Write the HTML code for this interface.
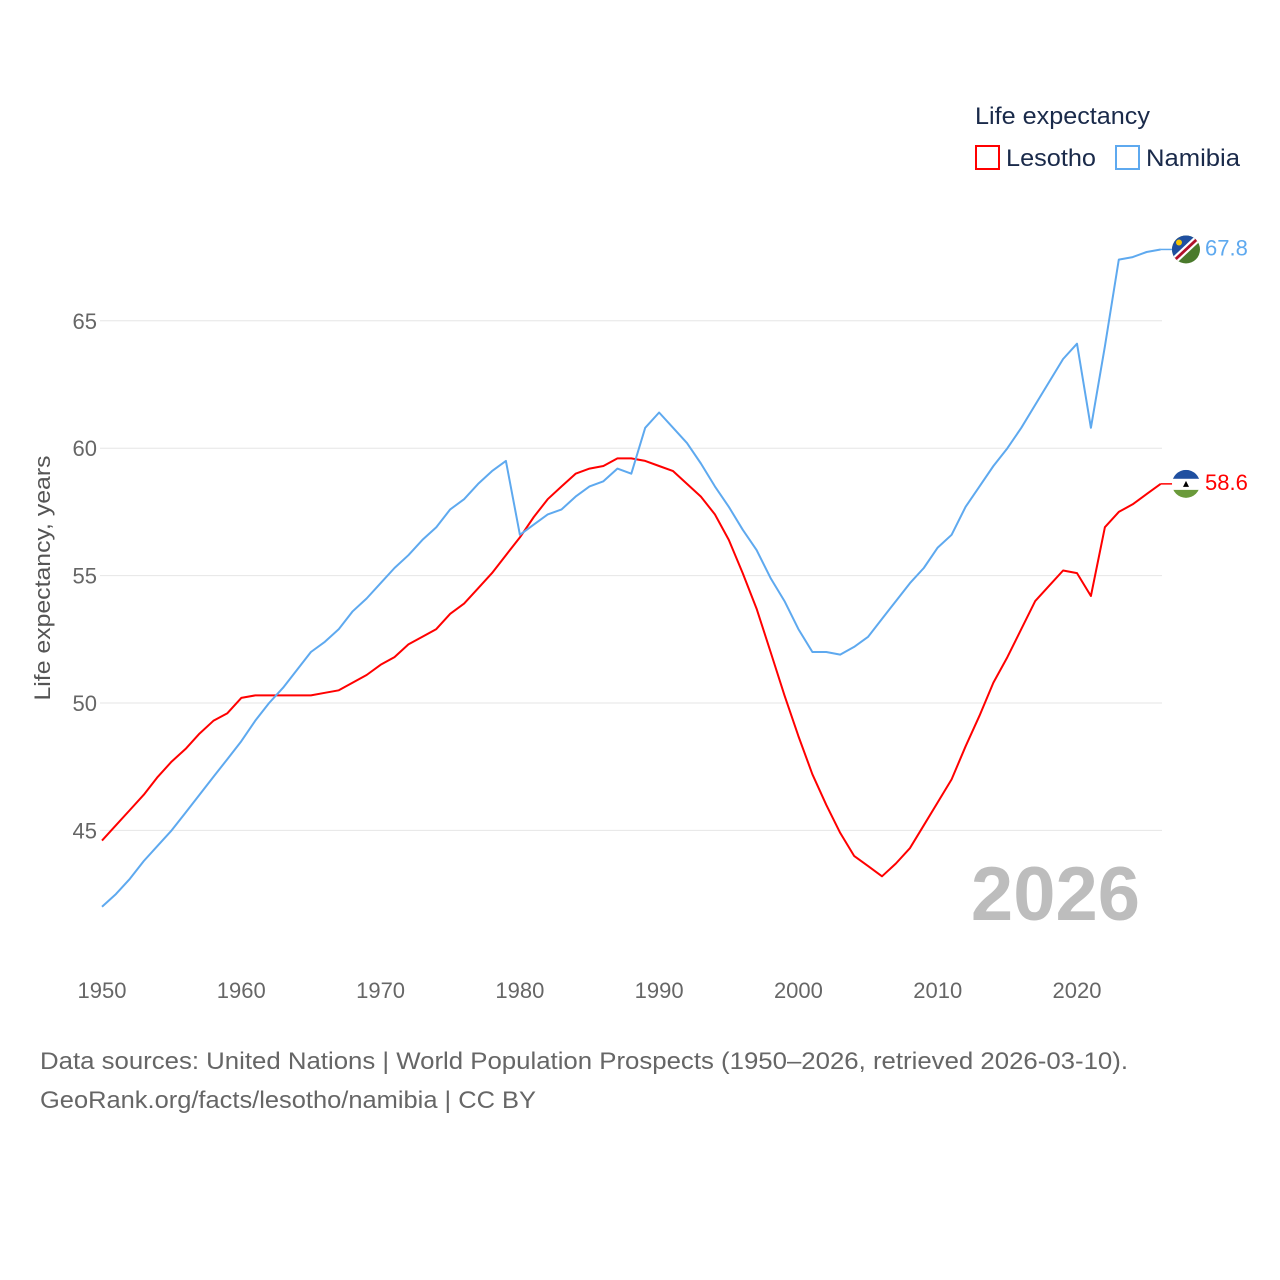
<!DOCTYPE html>
<html><head><meta charset="utf-8">
<style>
body{margin:0;background:#fff;font-family:"Liberation Sans",sans-serif;}
svg{display:block}
</style></head>
<body>
<svg id="chart" width="1280" height="1280" viewBox="0 0 1280 1280">
<g id="grid"></g>
<g id="ylabels"></g>
<g id="xlabels"></g>
<text x="50" y="578" transform="rotate(-90 50 578)" text-anchor="middle" font-size="22" fill="#555" textLength="245" lengthAdjust="spacingAndGlyphs">Life expectancy, years</text>
<text x="1140" y="920" text-anchor="end" font-size="76" font-weight="bold" fill="#bdbdbd">2026</text>
<g id="series"></g>
<g>
<text x="975" y="124" font-size="24" fill="#1a2a4a" textLength="175" lengthAdjust="spacingAndGlyphs">Life expectancy</text>
<g><rect x="976" y="146" width="23" height="23" fill="none" stroke="#f00" stroke-width="2"/><text x="1006" y="166" font-size="24" fill="#1a2a4a" textLength="90" lengthAdjust="spacingAndGlyphs">Lesotho</text></g>
<g><rect x="1116" y="146" width="23" height="23" fill="none" stroke="#5ea9ef" stroke-width="2"/><text x="1146" y="166" font-size="24" fill="#1a2a4a" textLength="94" lengthAdjust="spacingAndGlyphs">Namibia</text></g>
</g>
<text x="40" y="1069" font-size="24" fill="#666" textLength="1088" lengthAdjust="spacingAndGlyphs">Data sources: United Nations | World Population Prospects (1950–2026, retrieved 2026-03-10).</text>
<text x="40" y="1108" font-size="24" fill="#666" textLength="496" lengthAdjust="spacingAndGlyphs">GeoRank.org/facts/lesotho/namibia | CC BY</text>
</svg>
<script>
const years = [];
for (let y = 1950; y <= 2026; y++) years.push(y);
const lesotho = [44.6,45.2,45.8,46.4,47.1,47.7,48.2,48.8,49.3,49.6,50.2,50.3,50.3,50.3,50.3,50.3,50.4,50.5,50.8,51.1,51.5,51.8,52.3,52.6,52.9,53.5,53.9,54.5,55.1,55.8,56.5,57.3,58.0,58.5,59.0,59.2,59.3,59.6,59.6,59.5,59.3,59.1,58.6,58.1,57.4,56.4,55.1,53.7,52.0,50.3,48.7,47.2,46.0,44.9,44.0,43.6,43.2,43.7,44.3,45.2,46.1,47.0,48.3,49.5,50.8,51.8,52.9,54.0,54.6,55.2,55.1,54.2,56.9,57.5,57.8,58.2,58.6];
const namibia = [42.0,42.5,43.1,43.8,44.4,45.0,45.7,46.4,47.1,47.8,48.5,49.3,50.0,50.6,51.3,52.0,52.4,52.9,53.6,54.1,54.7,55.3,55.8,56.4,56.9,57.6,58.0,58.6,59.1,59.5,56.6,57.0,57.4,57.6,58.1,58.5,58.7,59.2,59.0,60.8,61.4,60.8,60.2,59.4,58.5,57.7,56.8,56.0,54.9,54.0,52.9,52.0,52.0,51.9,52.2,52.6,53.3,54.0,54.7,55.3,56.1,56.6,57.7,58.5,59.3,60.0,60.8,61.7,62.6,63.5,64.1,60.8,64.0,67.4,67.5,67.7,67.8];
const yTicks = [45,50,55,60,65];
const xTicks = [1950,1960,1970,1980,1990,2000,2010,2020];
const NS='http://www.w3.org/2000/svg';
const xs = yr => 102 + (yr-1950)*(1077-102)/70;
const ys = v => 703 - (v-50)*25.48;
const grid=document.getElementById('grid'), yl=document.getElementById('ylabels'), xl=document.getElementById('xlabels'), ser=document.getElementById('series');
function mk(tag, attrs){const e=document.createElementNS(NS,tag);for(const k in attrs)e.setAttribute(k,attrs[k]);return e;}
yTicks.forEach(t=>{
  const l=mk('line',{x1:100,x2:1162,y1:ys(t),y2:ys(t),stroke:'#e6e6e6','stroke-width':1});
  
  
  grid.appendChild(l);
  const tx=mk('text',{x:97,y:ys(t)+8,'text-anchor':'end','font-size':22,fill:'#666'});
  tx.textContent=t;
  
  
  yl.appendChild(tx);
});
xTicks.forEach(t=>{
  const tx=mk('text',{x:xs(t),y:998,'text-anchor':'middle','font-size':22,fill:'#666'});
  tx.textContent=t;
  
  
  xl.appendChild(tx);
});
function line(vals,color,name){
  const d=vals.map((v,i)=>(i?'L':'M')+xs(years[i]).toFixed(1)+','+ys(v).toFixed(1)).join('');
  const p=mk('path',{d:d,fill:'none',stroke:color,'stroke-width':2,'stroke-linejoin':'round'});
  
  
  ser.appendChild(p);
  const last=vals[vals.length-1], lx=xs(years[years.length-1]), ly=ys(last);
  const c=mk('line',{x1:lx,x2:1174,y1:ly,y2:ly,stroke:color,'stroke-width':1.5});
  ser.appendChild(c);
  const t=mk('text',{x:1205,y:ly+6,'font-size':22,fill:color});
  t.textContent=last.toFixed(1);
  
  
  ser.appendChild(t);
  return ly;
}
const lyL=line(lesotho,'#ff0000','lesotho');
const lyN=line(namibia,'#5ea9ef','namibia');
const fl=mk('g',{});


fl.innerHTML=`<clipPath id="cl"><circle cx="1186" cy="${lyL}" r="14"/></clipPath><g clip-path="url(#cl)"><rect x="1172" y="${lyL-14}" width="28" height="9" fill="#1f4fa0"/><rect x="1172" y="${lyL-5}" width="28" height="11" fill="#fff"/><rect x="1172" y="${lyL+6}" width="28" height="9" fill="#6a9a3a"/><path d="M1183 ${lyL+3} L1186 ${lyL-3} L1189 ${lyL+3}Z" fill="#000"/></g>`;
ser.appendChild(fl);
const fn=mk('g',{});


fn.innerHTML=`<clipPath id="cn"><circle cx="1186" cy="${lyN}" r="14"/></clipPath><g clip-path="url(#cn)"><rect x="1172" y="${lyN-14}" width="28" height="28" fill="#4a7a2c"/><path d="M1172 ${lyN-14} L1200 ${lyN-14} L1172 ${lyN+14}Z" fill="#1f4fa0"/><path d="M1200 ${lyN-18} L1168 ${lyN+12} L1172 ${lyN+18} L1204 ${lyN-12}Z" fill="#fff"/><path d="M1200 ${lyN-15} L1170 ${lyN+13} L1172 ${lyN+15} L1202 ${lyN-13}Z" fill="#b0102a"/><circle cx="1179" cy="${lyN-7}" r="3" fill="#f5c400"/></g>`;
ser.appendChild(fn);
</script>
</body></html>
